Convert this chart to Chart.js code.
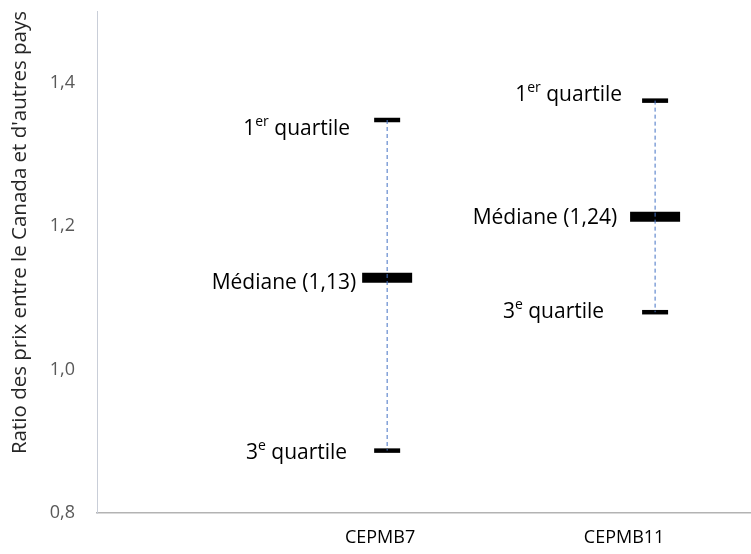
<!DOCTYPE html>
<html lang="fr">
<head>
  <meta charset="UTF-8" />
  <title>Ratio des prix - CEPMB7 / CEPMB11</title>
  <style>
    body { margin: 0; background: #fff; }
    #wrap { width: 751px; height: 554px; position: relative; }
  </style>
</head>
<body>
  <div id="wrap"><canvas id="ratioChart"></canvas></div>

  <script src="https://cdn.jsdelivr.net/npm/chart.js"></script>
  <script>
    // Data
    const categories = ['CEPMB7', 'CEPMB11'];
    const categoryX = [1, 2];
    const markX = [1.029, 2.127];
    const q1 = [1.348, 1.375];
    const median = [1.128, 1.213];
    const q3 = [0.887, 1.08];
    const medianText = ['1,13', '1,24'];
    const yTicks = [0.8, 1.0, 1.2, 1.4];

    // label placement (px, relative to each mark) - style only
    const labelOffsets = [
      [{ dx: -37, dy: 9 }, { dx: -31, dy: 5 }, { dx: -40, dy: 2 }],
      [{ dx: -33, dy: -6 }, { dx: -38, dy: 1 }, { dx: -51, dy: 0 }]
    ];

    const FONT = "'Open Sans', 'Noto Sans', sans-serif";

    function pts(xs, ys) {
      return xs.map((x, i) => ({ x: x, y: ys[i] }));
    }

    // dashed blue hi-lo lines, drawn on top
    const lineSets = markX.map((x, i) => ({
      type: 'line',
      data: [{ x: x, y: q1[i] }, { x: x, y: q3[i] }],
      borderColor: '#4472C4',
      borderWidth: 1,
      borderDash: [4, 3],
      pointRadius: 0,
      order: 0
    }));

    const quartileSet = {
      type: 'scatter',
      data: pts(markX, q1).concat(pts(markX, q3)),
      pointStyle: 'line',
      pointRadius: 13,
      pointBorderWidth: 4.5,
      pointBorderColor: '#000',
      pointBackgroundColor: '#000',
      pointHoverRadius: 13,
      order: 1
    };

    const medianSet = {
      type: 'scatter',
      data: pts(markX, median),
      pointStyle: 'line',
      pointRadius: 25,
      pointBorderWidth: 10,
      pointBorderColor: '#000',
      pointBackgroundColor: '#000',
      pointHoverRadius: 25,
      order: 1
    };

    // draws "1er quartile", "Médiane (x)", "3e quartile" with raised superscripts
    const labelPlugin = {
      id: 'quartileLabels',
      afterDatasetsDraw(chart) {
        const ctx = chart.ctx;
        const xs = chart.scales.x, ys = chart.scales.y;
        const base = '21px ' + FONT;
        const sup = '14px ' + FONT;
        ctx.save();
        ctx.fillStyle = '#000';
        ctx.textBaseline = 'middle';
        markX.forEach((mx, i) => {
          const px = xs.getPixelForValue(mx);
          const rows = [
            { y: q1[i], parts: [['1', base, 0], ['er', sup, -7], [' quartile', base, 0]] },
            { y: median[i], parts: [['Médiane (' + medianText[i] + ')', base, 0]] },
            { y: q3[i], parts: [['3', base, 0], ['e', sup, -7], [' quartile', base, 0]] }
          ];
          rows.forEach((row, k) => {
            const off = labelOffsets[i][k];
            let total = 0;
            row.parts.forEach(p => { ctx.font = p[1]; total += ctx.measureText(p[0]).width; });
            let x = px + off.dx - total;
            const y = ys.getPixelForValue(row.y) + off.dy;
            ctx.textAlign = 'left';
            row.parts.forEach(p => {
              ctx.font = p[1];
              ctx.fillText(p[0], x, y + p[2]);
              x += ctx.measureText(p[0]).width;
            });
          });
        });
        ctx.restore();
      }
    };

    new Chart(document.getElementById('ratioChart').getContext('2d'), {
      data: { datasets: [...lineSets, quartileSet, medianSet] },
      options: {
        responsive: true,
        maintainAspectRatio: false,
        animation: false,
        layout: { autoPadding: false, padding: { top: 11, right: 0, left: 0, bottom: 0 } },
        plugins: {
          legend: { display: false },
          tooltip: { enabled: false }
        },
        scales: {
          x: {
            type: 'linear',
            min: -0.16,
            max: 2.52,
            afterBuildTicks: (scale) => { scale.ticks = categoryX.map(v => ({ value: v })); },
            afterFit: (scale) => {
              scale.height = 41;
              scale.paddingLeft = 0;
              scale.paddingRight = 0;
            },
            ticks: {
              autoSkip: false,
              maxRotation: 0,
              padding: 14,
              color: '#000',
              font: { family: FONT, size: 18 },
              callback: (v) => categories[categoryX.indexOf(v)] || ''
            },
            grid: { display: false, drawTicks: false },
            border: { color: '#B3B3B3', width: 1.5 }
          },
          y: {
            type: 'linear',
            min: 0.8,
            max: 1.5,
            afterBuildTicks: (scale) => { scale.ticks = yTicks.map(v => ({ value: v })); },
            afterFit: (scale) => {
              scale.width = 97;
              scale.paddingTop = 0;
              scale.paddingBottom = 0;
            },
            ticks: {
              padding: 22,
              color: '#595959',
              font: { family: FONT, size: 18 },
              callback: (v) => v.toFixed(1).replace('.', ',')
            },
            grid: { display: false, drawTicks: false },
            border: { color: '#C9CED8', width: 1 },
            title: {
              display: true,
              text: "Ratio des prix entre le Canada et d'autres pays",
              align: 'end',
              color: '#262626',
              font: { family: FONT, size: 20.5 },
              padding: { top: 8, bottom: 0 }
            }
          }
        }
      },
      plugins: [labelPlugin]
    });
  </script>
</body>
</html>
